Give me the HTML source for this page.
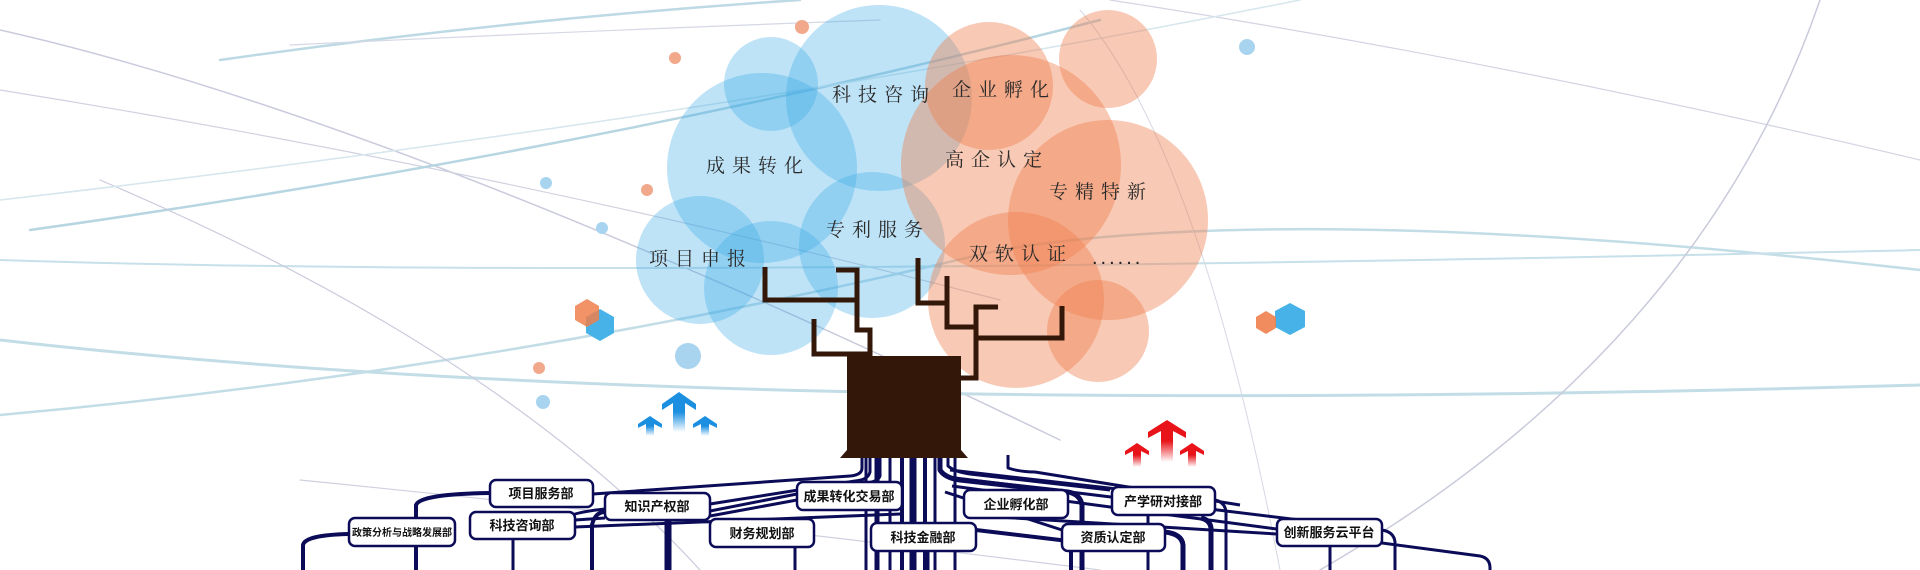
<!DOCTYPE html>
<html><head><meta charset="utf-8"><style>
html,body{margin:0;padding:0;background:#fff;width:1920px;height:570px;overflow:hidden}
svg{display:block}
.lbl{font-family:"Liberation Serif","Noto Serif CJK SC",serif;font-size:19px;fill:#2a2a2a;letter-spacing:7px}
.dep{font-family:"Liberation Sans","Noto Sans CJK SC",sans-serif;font-size:13px;font-weight:bold;fill:#111;text-anchor:middle}
</style></head><body>
<svg width="1920" height="570" viewBox="0 0 1920 570" xmlns="http://www.w3.org/2000/svg">
<g fill="none" stroke-linecap="round">
<path d="M0,30 Q400,120 1060,440" stroke="#c9cbdc" stroke-width="1.5"/>
<path d="M0,90 Q500,170 1000,300" stroke="#d0d2e0" stroke-width="1.2"/>
<path d="M30,230 Q600,150 1100,20" stroke="#b7d6e2" stroke-width="2.5"/>
<path d="M0,340 Q700,420 1920,385" stroke="#c3dde7" stroke-width="3"/>
<path d="M0,415 Q500,370 1000,250 Q1300,200 1920,270" stroke="#c3dde7" stroke-width="2.5"/>
<path d="M220,60 Q500,20 800,0" stroke="#bcd9e4" stroke-width="2.5"/>
<path d="M290,45 Q600,30 880,20" stroke="#d5d8e5" stroke-width="1.2"/>
<path d="M0,260 Q600,280 1920,250" stroke="#c7e0e9" stroke-width="2"/>
<path d="M1110,0 Q1500,60 1920,160" stroke="#d2d4e2" stroke-width="1.2"/>
<path d="M1320,570 Q1700,350 1820,0" stroke="#c9cbdc" stroke-width="1.5"/>
<path d="M1080,10 Q1200,150 1280,570" stroke="#d5d8e5" stroke-width="1"/>
<path d="M100,180 Q500,350 700,570" stroke="#c9cbdc" stroke-width="1.2"/>
<path d="M0,200 Q700,120 1300,0" stroke="#d5e6ed" stroke-width="1.5"/>
<path d="M300,480 Q700,520 1100,570" stroke="#cfd1df" stroke-width="1.2"/>
</g>
<g fill="#36a8e6" fill-opacity="0.32">
<circle cx="771" cy="84" r="47"/>
<circle cx="879" cy="98" r="93"/>
<circle cx="762" cy="168" r="95"/>
<circle cx="700" cy="260" r="64"/>
<circle cx="771" cy="288" r="67"/>
<circle cx="872" cy="245" r="73"/>
</g>
<g fill="#ef7f4c" fill-opacity="0.42">
<circle cx="989" cy="86" r="64"/>
<circle cx="1108" cy="59" r="49"/>
<circle cx="1011" cy="165" r="110"/>
<circle cx="1108" cy="220" r="100"/>
<circle cx="1016" cy="300" r="88"/>
<circle cx="1098" cy="331" r="51"/>
</g>
<g>
<circle cx="802" cy="27" r="7" fill="#f2a88a"/>
<circle cx="675" cy="58" r="6" fill="#f2a88a"/>
<circle cx="647" cy="190" r="6" fill="#f2a88a"/>
<circle cx="539" cy="368" r="6" fill="#f2a88a"/>
<circle cx="546" cy="183" r="6" fill="#a8d4f0"/>
<circle cx="602" cy="228" r="6" fill="#a8d4f0"/>
<circle cx="543" cy="402" r="7" fill="#a8d4f0"/>
<circle cx="688" cy="356" r="13" fill="#a8d4f0"/>
<circle cx="1247" cy="47" r="8" fill="#a8d4f0"/>
</g>
<polygon points="600,309 614,317 614,333 600,341 586,333 586,317" fill="#46b2e8"/>
<polygon points="587,299 599,306 599,320 587,327 575,320 575,306" fill="#ef7f4c" fill-opacity="0.85"/>
<polygon points="1290,303 1305,311 1305,327 1290,335 1275,327 1275,311" fill="#46b2e8"/>
<polygon points="1266,311 1276,317 1276,328 1266,334 1256,328 1256,317" fill="#ef7f4c" fill-opacity="0.9"/>
<defs>
<linearGradient id="bg" x1="0" y1="0" x2="0" y2="1"><stop offset="0.5" stop-color="#1c8fe0"/><stop offset="1" stop-color="#1c8fe0" stop-opacity="0"/></linearGradient>
<linearGradient id="rg" x1="0" y1="0" x2="0" y2="1"><stop offset="0.5" stop-color="#e8141a"/><stop offset="1" stop-color="#e8141a" stop-opacity="0"/></linearGradient>
</defs>
<g fill="url(#bg)">
<path d="M679,392 L696,404 L696,410 L685,403 L685,432 L673,432 L673,403 L662,410 L662,404 Z"/>
<path d="M650,416 L662,424 L662,428 L654,424 L654,436 L646,436 L646,424 L638,428 L638,424 Z"/>
<path d="M705,416 L717,424 L717,428 L709,424 L709,436 L701,436 L701,424 L693,428 L693,424 Z"/>
</g>
<g fill="url(#rg)">
<path d="M1167,420 L1186,432 L1186,438 L1173,431 L1173,462 L1161,462 L1161,431 L1148,438 L1148,432 Z"/>
<path d="M1137,443 L1149,451 L1149,455 L1141,451 L1141,467 L1133,467 L1133,451 L1125,455 L1125,451 Z"/>
<path d="M1192,443 L1204,451 L1204,455 L1196,451 L1196,467 L1188,467 L1188,451 L1180,455 L1180,451 Z"/>
</g>
<text class="lbl" x="832" y="101">科技咨询</text>
<text class="lbl" x="706" y="172">成果转化</text>
<text class="lbl" x="649" y="265">项目申报</text>
<text class="lbl" x="826" y="236">专利服务</text>
<text class="lbl" x="952" y="96">企业孵化</text>
<text class="lbl" x="945" y="166">高企认定</text>
<text class="lbl" x="1049" y="198">专精特新</text>
<text class="lbl" x="969" y="260">双软认证</text>
<text x="1092" y="264" style="font-family:'Liberation Sans',sans-serif;font-size:20px;fill:#222;letter-spacing:3px">......</text>
<g fill="none" stroke="#33180a" stroke-width="5">
<path d="M765,267 V300 H857 V330 H870 V358"/>
<path d="M836,270 H857 V300"/>
<path d="M814,319 V354 H870"/>
<path d="M918,258 V303 H947 V327 H976"/>
<path d="M947,276 V303"/>
<path d="M998,307 H976 V378 H958"/>
<path d="M976,338 H1062 V306"/>
</g>
<rect x="847" y="356" width="114" height="100" fill="#33180a"/>
<path d="M840,458 L847,450 L961,450 L968,458 Z" fill="#33180a"/>
<g fill="none" stroke="#0b0b57" stroke-width="3" stroke-linejoin="round">
<path d="M862,458 V468 Q862,475 850,476 L593,494"/>
<path d="M870,458 V472 Q868,480 855,481 L710,504"/>
<path d="M880,458 V476 Q878,482 865,483 L902,484"/>
<path d="M940,458 V470 Q945,478 960,480 L1068,492 Q1080,494 1082,505 V570" stroke-width="5"/>
<path d="M948,458 V466 Q955,472 970,474 L1110,490"/>
<path d="M950,470 L1215,500 Q1225,502 1226,512 V570" stroke-width="3"/>
<path d="M955,478 L1382,530 Q1394,532 1395,542 V570"/>
<path d="M952,486 L1480,556 Q1490,558 1490,568 V570"/>
<path d="M945,492 L1062,530"/>
<path d="M965,515 L1277,534"/>
<path d="M1165,532 Q1182,534 1183,545 V570" stroke-width="5"/>
<path d="M976,530 L1060,540 Q1070,542 1071,552 V570" stroke-width="4"/>
<path d="M710,511 L797,494"/>
<path d="M710,516 L797,500"/>
<path d="M575,527 L900,514"/>
<path d="M575,520 L605,518"/>
<path d="M490,493 Q420,494 416,505 V570" stroke-width="4"/>
<path d="M349,534 Q305,535 303,545 V570" stroke-width="4"/>
<path d="M605,509 Q565,513 563,522"/>
<path d="M605,512 Q595,512 592,525 V570" stroke-width="4"/>
<path d="M513,539 V570" stroke-width="3"/>
<path d="M668,520 V570" stroke-width="7"/>
<path d="M795,519 V570" stroke-width="3"/>
<path d="M1148,515 V570" stroke-width="3"/>
<path d="M1201,518 Q1210,520 1211,528 V570" stroke-width="5"/>
<path d="M1330,546 V570" stroke-width="3"/>
<path d="M928,551 V570" stroke-width="3"/>
<path d="M1008,455 V468 Q1020,472 1035,472 L1240,505" stroke-width="3"/>
</g>
<g fill="none" stroke="#0b0b57">
<path d="M866,458 V570" stroke-width="3"/>
<path d="M877,458 V570" stroke-width="5"/>
<path d="M890,458 V570" stroke-width="3"/>
<path d="M902,458 V570" stroke-width="4"/>
<path d="M913,458 V570" stroke-width="7"/>
<path d="M925,458 V570" stroke-width="4"/>
<path d="M935,458 V570" stroke-width="3"/>
<path d="M955,458 V570" stroke-width="3"/>
</g>
<g fill="#fff" stroke="#0b0b57" stroke-width="2.5">
<rect x="490" y="480" width="103" height="27" rx="6"/>
<rect x="605" y="493" width="105" height="27" rx="6"/>
<rect x="797" y="482" width="105" height="28" rx="6"/>
<rect x="964" y="490" width="104" height="28" rx="6"/>
<rect x="1112" y="487" width="103" height="28" rx="6"/>
<rect x="349" y="518" width="106" height="28" rx="6"/>
<rect x="470" y="512" width="105" height="27" rx="6"/>
<rect x="710" y="519" width="104" height="28" rx="6"/>
<rect x="871" y="523" width="105" height="28" rx="6"/>
<rect x="1062" y="524" width="103" height="27" rx="6"/>
<rect x="1277" y="519" width="105" height="27" rx="6"/>
</g>
<text class="dep" x="541" y="498">项目服务部</text>
<text class="dep" x="657" y="511">知识产权部</text>
<text class="dep" x="849" y="501">成果转化交易部</text>
<text class="dep" x="1016" y="509">企业孵化部</text>
<text class="dep" x="1163" y="506">产学研对接部</text>
<text class="dep" x="402" y="536" style="font-size:10px">政策分析与战略发展部</text>
<text class="dep" x="522" y="530">科技咨询部</text>
<text class="dep" x="762" y="538">财务规划部</text>
<text class="dep" x="923" y="542">科技金融部</text>
<text class="dep" x="1113" y="542">资质认定部</text>
<text class="dep" x="1329" y="537">创新服务云平台</text>
</svg>
</body></html>
